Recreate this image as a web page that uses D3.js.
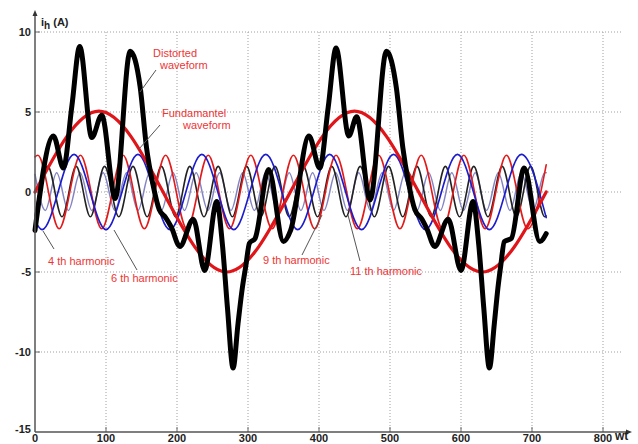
<!DOCTYPE html>
<html>
<head>
<meta charset="utf-8">
<script src="https://cdn.jsdelivr.net/npm/d3@7"></script>
<style>
body { margin: 0; background: #fff; }
svg { font-family: "Liberation Sans", Arial, sans-serif; }
</style>
</head>
<body>
<div id="chart"></div>
<script>
// tick values of both axes
var xTicks = [0, 100, 200, 300, 400, 500, 600, 700, 800];
var yTicks = [-15, -10, -5, 0, 5, 10];

// [wt, i] points (ends + turning points)
var fundamental = [[0, 0], [90, 5.05], [270, -5], [450, 5.05], [630, -5], [720, 0]];

var h4 = [[0, -1.8], [10, -2.35], [55, 2.35], [100, -2.35], [145, 2.35], [190, -2.35], [235, 2.35],
          [280, -2.35], [325, 2.35], [370, -2.35], [415, 2.35], [460, -2.35], [505, 2.35], [550, -2.35],
          [595, 2.35], [640, -2.35], [685, 2.35], [720, -1.6]];

var h6 = [[0, 2.2], [4, 2.3], [34, -2.3], [64, 2.3], [94, -2.3], [124, 2.3], [154, -2.3], [184, 2.3],
          [214, -2.3], [244, 2.3], [274, -2.3], [304, 2.3], [334, -2.3], [364, 2.3], [394, -2.3],
          [424, 2.3], [454, -2.3], [484, 2.3], [514, -2.3], [544, 2.3], [574, -2.3], [604, 2.3],
          [634, -2.3], [664, 2.3], [694, -2.3], [720, 1.7]];

var h9 = [[0, -1.5], [18, 1.6], [38, -1.55], [58, 1.6], [78, -1.55], [98, 1.6], [118, -1.55], [138, 1.6],
          [158, -1.55], [178, 1.6], [198, -1.55], [218, 1.6], [238, -1.55], [258, 1.6], [278, -1.55],
          [298, 1.6], [318, -1.55], [338, 1.6], [358, -1.55], [378, 1.6], [398, -1.55], [418, 1.6],
          [438, -1.55], [458, 1.6], [478, -1.55], [498, 1.6], [518, -1.55], [538, 1.6], [558, -1.55],
          [578, 1.6], [598, -1.55], [618, 1.6], [638, -1.55], [658, 1.6], [678, -1.55], [698, 1.6],
          [718, -1.55], [720, -1.5]];

var h11 = [[0, 1.1], [14.5, -1.15], [30.5, 1.2], [47, -1.15], [63.5, 1.2], [80, -1.15], [96, 1.2],
           [112.5, -1.15], [129, 1.2], [145, -1.15], [161.5, 1.2], [178, -1.15], [194.5, 1.2],
           [210.5, -1.15], [227, 1.2], [243.5, -1.15], [260, 1.2], [276, -1.15], [292.5, 1.2],
           [309, -1.15], [325, 1.2], [341.5, -1.15], [358, 1.2], [374.5, -1.15], [391, 1.2],
           [407, -1.15], [423.5, 1.2], [440, -1.15], [456, 1.2], [472.5, -1.15], [489, 1.2],
           [505, -1.15], [521.5, 1.2], [538, -1.15], [554.5, 1.2], [571, -1.15], [587, 1.2],
           [603.5, -1.15], [620, 1.2], [636, -1.15], [652.5, 1.2], [669, -1.15], [685, 1.2],
           [701.5, -1.15], [718, 1.2], [720, 1.2]];

var distorted = [[0, -2.4], [26, 3.5], [40, 1.5], [52, 5.4], [63, 9.1], [80, 3.4], [94, 4.8], [113, -0.4],
                 [134, 8.8], [148, 6.6], [157, 2.8], [166, 0.5], [175, -1.1], [184, -1.6], [192, -2.2],
                 [204, -3.4], [223, -1.7], [239, -4.9], [256, -0.6], [264, -3.3], [271, -7.2], [279, -11],
                 [286, -8.2], [292, -6.0], [297, -4.6], [302, -3.2], [310, -2.9], [329, 1.4], [350, -3.1],
                 [360, -2.4], [386, 3.5], [401, 1.5], [413, 5.3], [424, 9.0], [442, 3.5], [453, 4.7],
                 [472, -0.5], [495, 8.8], [509, 6.5], [518, 2.8], [526, 0.6], [535, -1.1], [545, -1.7],
                 [552, -2.3], [563, -3.4], [582, -1.7], [600, -4.9], [617, -0.6], [625, -3.3], [632, -7.2],
                 [640, -11], [647, -8.2], [652, -6.0], [656, -4.6], [661, -3.1], [671, -2.9], [689, 1.5],
                 [711, -3.1], [720, -2.6]];

var W = 638, H = 444;

var svg = d3.select("#chart").append("svg")
    .attr("width", W)
    .attr("height", H);

var x = d3.scaleLinear().domain([0, 800]).range([35, 603]);
var y = d3.scaleLinear().domain([-15, 10]).range([432, 32]);

// dotted grid
svg.append("g").selectAll("line")
    .data(xTicks.slice(1))
    .enter().append("line")
    .attr("x1", d => x(d)).attr("x2", d => x(d))
    .attr("y1", y(10)).attr("y2", y(-15))
    .attr("stroke", "#a0a0a0")
    .attr("stroke-dasharray", "1,2");

svg.append("g").selectAll("line")
    .data(yTicks.slice(1))
    .enter().append("line")
    .attr("x1", x(0)).attr("x2", 622)
    .attr("y1", d => y(d)).attr("y2", d => y(d))
    .attr("stroke", "#a0a0a0")
    .attr("stroke-dasharray", "1,2");

// short ticks on the axes
svg.append("g").selectAll("line")
    .data(xTicks.slice(1))
    .enter().append("line")
    .attr("x1", d => x(d)).attr("x2", d => x(d))
    .attr("y1", y(-15)).attr("y2", y(-15) - 5)
    .attr("stroke", "#666");
svg.append("g").selectAll("line")
    .data(yTicks.slice(1))
    .enter().append("line")
    .attr("x1", x(0)).attr("x2", x(0) + 5)
    .attr("y1", d => y(d)).attr("y2", d => y(d))
    .attr("stroke", "#666");

// curves
var line = d3.line()
    .x(d => x(d[0]))
    .y(d => y(d[1]))
    .curve(d3.curveMonotoneX);

var series = [
    { data: h11, color: "#8484c4", width: 1.5 },
    { data: h9, color: "#222222", width: 1.6 },
    { data: h6, color: "#e31a1a", width: 1.6 },
    { data: h4, color: "#1c1ccc", width: 1.6 },
    { data: fundamental, color: "#e0151a", width: 3.2 },
    { data: distorted, color: "#000000", width: 5 }
];

svg.append("g").selectAll("path")
    .data(series)
    .enter().append("path")
    .attr("d", d => line(d.data))
    .attr("fill", "none")
    .attr("stroke", d => d.color)
    .attr("stroke-width", d => d.width)
    .attr("stroke-linejoin", "round")
    .attr("stroke-linecap", "round");

// axes with arrows
svg.append("line")
    .attr("x1", x(0)).attr("x2", x(0))
    .attr("y1", y(-15)).attr("y2", 14)
    .attr("stroke", "#555").attr("stroke-width", 1.5);
svg.append("path")
    .attr("d", "M" + x(0) + ",10 l-2.5,6 l5,0 z")
    .attr("fill", "#333");
svg.append("line")
    .attr("x1", x(0)).attr("x2", 628)
    .attr("y1", y(-15)).attr("y2", y(-15))
    .attr("stroke", "#555").attr("stroke-width", 1.5);
svg.append("path")
    .attr("d", "M632," + y(-15) + " l-6,-2.5 l0,5 z")
    .attr("fill", "#333");

// tick labels
svg.append("g").selectAll("text")
    .data(xTicks)
    .enter().append("text")
    .attr("x", d => x(d))
    .attr("y", 442)
    .attr("text-anchor", "middle")
    .attr("font-size", 11)
    .attr("font-weight", "bold")
    .attr("fill", "#222")
    .text(d => d);

svg.append("g").selectAll("text")
    .data(yTicks)
    .enter().append("text")
    .attr("x", 31)
    .attr("y", d => y(d) + (d == -15 ? 1 : 4))
    .attr("text-anchor", "end")
    .attr("font-size", 11)
    .attr("font-weight", "bold")
    .attr("fill", "#222")
    .text(d => d);

// axis titles
var yt = svg.append("text")
    .attr("x", 41).attr("y", 26)
    .attr("font-size", 11)
    .attr("font-weight", "bold")
    .attr("fill", "#222");
yt.append("tspan").text("i");
yt.append("tspan").attr("dy", 3).attr("font-size", 10).text("h");
yt.append("tspan").attr("dy", -3).text(" (A)");

svg.append("text")
    .attr("x", 615).attr("y", 440)
    .attr("font-size", 12)
    .attr("font-weight", "bold")
    .attr("fill", "#222")
    .text("wt");

// annotations: pointer lines then red labels
var pointers = [
    [156, 70, 140, 92],
    [160, 125, 139, 149],
    [43, 231, 54, 249],
    [114, 230, 137, 270],
    [322, 215, 302, 255],
    [348, 215, 360, 261]
];
svg.append("g").selectAll("line")
    .data(pointers)
    .enter().append("line")
    .attr("x1", d => d[0]).attr("y1", d => d[1])
    .attr("x2", d => d[2]).attr("y2", d => d[3])
    .attr("stroke", "#555")
    .attr("stroke-width", 1);

var labels = [
    ["Distorted", 153, 57],
    ["waveform", 160, 69],
    ["Fundamantel", 162, 117],
    ["waveform", 183, 129],
    ["4 th harmonic", 48, 265],
    ["6 th harmonic", 111, 282],
    ["9 th harmonic", 263, 264],
    ["11 th harmonic", 350, 275]
];
svg.append("g").selectAll("text")
    .data(labels)
    .enter().append("text")
    .attr("x", d => d[1])
    .attr("y", d => d[2])
    .attr("font-size", 11)
    .attr("fill", "#ee3535")
    .text(d => d[0]);
</script>
</body>
</html>
